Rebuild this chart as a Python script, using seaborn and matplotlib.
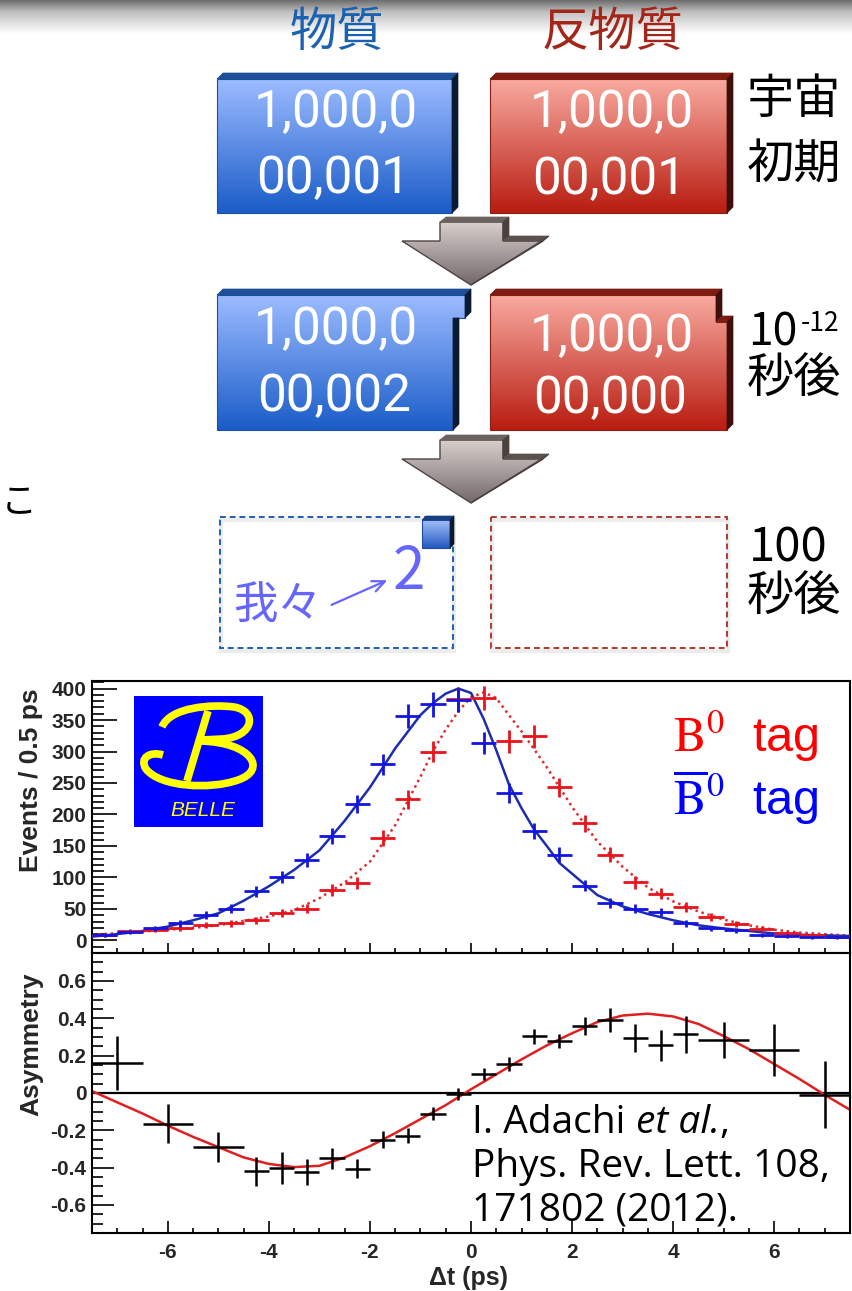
import numpy as np
import pandas as pd
import matplotlib
matplotlib.use('Agg')
import matplotlib.pyplot as plt
import seaborn as sns
from matplotlib.patches import Polygon, Rectangle, PathPatch, FancyArrowPatch
from matplotlib.path import Path
from matplotlib.colors import LinearSegmentedColormap
from matplotlib.ticker import MultipleLocator, FixedLocator, FuncFormatter

# ======================
# データ
# ======================
# 上段: Δt ビン中心 (0.5 ps ビン)
dt_bins = [-7.25, -6.75, -6.25, -5.75, -5.25, -4.75, -4.25, -3.75, -3.25, -2.75,
           -2.25, -1.75, -1.25, -0.75, -0.25, 0.25, 0.75, 1.25, 1.75, 2.25,
           2.75, 3.25, 3.75, 4.25, 4.75, 5.25, 5.75, 6.25, 6.75, 7.25]
dt_halfwidth = [0.25] * 30
# B0 tag (赤)
n_b0 = [9, 15, 17, 20, 25, 27, 32, 43, 50, 80,
        91, 162, 224, 300, 383, 385, 316, 324, 243, 186,
        136, 92, 74, 53, 37, 26, 18, 12, 8, 6]
n_b0_err = [3.0, 3.9, 4.1, 4.5, 5.0, 5.2, 5.7, 6.6, 7.1, 8.9,
            9.5, 12.7, 15.0, 17.3, 19.6, 19.6, 17.8, 18.0, 15.6, 13.6,
            11.7, 9.6, 8.6, 7.3, 6.1, 5.1, 4.2, 3.5, 2.8, 2.4]
# anti-B0 tag (青)
n_b0bar = [9, 13, 19, 27, 41, 50, 78, 101, 128, 166,
           217, 280, 357, 375, 382, 314, 234, 174, 136, 87,
           59, 50, 45, 27, 19, 16, 9, 7, 5, 5]
n_b0bar_err = [3.0, 3.6, 4.4, 5.2, 6.4, 7.1, 8.8, 10.0, 11.3, 12.9,
               14.7, 16.7, 18.9, 19.4, 19.5, 17.7, 15.3, 13.2, 11.7, 9.3,
               7.7, 7.1, 6.7, 5.2, 4.4, 4.0, 3.0, 2.6, 2.2, 2.2]

# フィット曲線 (読み取り点)
fit_b0bar_t = [-7.5, -7.0, -6.5, -6.0, -5.5, -5.0, -4.5, -4.0, -3.5, -3.0,
               -2.5, -2.0, -1.5, -1.0, -0.75, -0.5, -0.25, 0.0, 0.25, 0.5,
               0.75, 1.0, 1.25, 1.5, 1.75, 2.0, 2.5, 3.0, 3.5, 4.0,
               4.5, 5.0, 5.5, 6.0, 6.5, 7.0, 7.5]
fit_b0bar_n = [6, 10, 15, 22, 32, 43, 63, 86, 112, 143,
               190, 243, 305, 358, 377, 392, 400, 393, 352, 302,
               248, 210, 176, 150, 123, 106, 72, 54, 42, 32,
               24, 19, 15, 11, 9, 8, 7]
fit_b0_t = [-7.5, -7.0, -6.5, -6.0, -5.5, -5.0, -4.5, -4.0, -3.5, -3.0,
            -2.5, -2.0, -1.5, -1.0, -0.75, -0.5, -0.25, 0.0, 0.25, 0.5,
            0.75, 1.0, 1.5, 2.0, 2.5, 3.0, 3.5, 4.0, 4.5, 5.0,
            5.5, 6.0, 6.5, 7.0, 7.5]
fit_b0_n = [9, 11.5, 14, 17, 20, 24, 31, 38, 48, 67,
            92, 125, 183, 260, 301, 335, 364, 386, 394, 385,
            358, 332, 275, 212, 157, 117, 84, 62, 46, 33,
            24, 17, 12.5, 10, 7.5]

# 下段: 非対称度
asym_t = [-7.0, -6.0, -5.0, -4.25, -3.75, -3.25, -2.75, -2.25, -1.75, -1.25,
          -0.75, -0.25, 0.25, 0.75, 1.25, 1.75, 2.25, 2.75, 3.25, 3.75,
          4.25, 5.0, 6.0, 7.0]
asym_terr = [0.5, 0.5, 0.5, 0.25, 0.25, 0.25, 0.25, 0.25, 0.25, 0.25,
             0.25, 0.25, 0.25, 0.25, 0.25, 0.25, 0.25, 0.25, 0.25, 0.25,
             0.25, 0.5, 0.5, 0.5]
asym_val = [0.16, -0.165, -0.29, -0.42, -0.40, -0.425, -0.35, -0.405, -0.25, -0.23,
            -0.11, -0.005, 0.10, 0.155, 0.305, 0.28, 0.36, 0.39, 0.295, 0.255,
            0.315, 0.285, 0.23, -0.01]
asym_err = [0.145, 0.105, 0.08, 0.078, 0.085, 0.07, 0.058, 0.05, 0.045, 0.04,
            0.036, 0.034, 0.033, 0.036, 0.04, 0.038, 0.048, 0.063, 0.074, 0.085,
            0.10, 0.095, 0.14, 0.18]
fit_asym_t = [-7.5, -7.0, -6.5, -6.0, -5.5, -5.0, -4.5, -4.0, -3.5, -3.0,
              -2.5, -2.0, -1.5, -1.0, -0.5, 0.0, 0.5, 1.0, 1.5, 2.0,
              2.5, 3.0, 3.5, 4.0, 4.5, 5.0, 5.5, 6.0, 6.5, 7.0, 7.5]
fit_asym_v = [0.01, -0.05, -0.11, -0.175, -0.235, -0.29, -0.345, -0.38, -0.397, -0.39,
              -0.345, -0.285, -0.215, -0.14, -0.065, 0.02, 0.10, 0.18, 0.255, 0.32,
              0.38, 0.415, 0.425, 0.41, 0.37, 0.305, 0.235, 0.155, 0.075, -0.01, -0.09]

# 上部の図のテキスト
col_titles = ['物質', '反物質']
row1_counts = ['1,000,0\n00,001', '1,000,0\n00,001']
row2_counts = ['1,000,0\n00,002', '1,000,0\n00,000']
row_labels = ['宇宙\n初期', '秒後', '100\n秒後']
citation = ['I. Adachi ', 'et al.', ',', 'Phys. Rev. Lett. 108,', '171802 (2012).']

# ======================
# 図の設定
# ======================
sns.set_theme(style='white')
CJK = ['Noto Sans CJK JP', 'DejaVu Sans']
plt.rcParams['font.family'] = ['Liberation Sans', 'Noto Sans CJK JP', 'DejaVu Sans']
plt.rcParams['axes.unicode_minus'] = False

W, H = 852, 1291
fig = plt.figure(figsize=(W / 100, H / 100), dpi=100)
fig.patch.set_facecolor('white')

bg = fig.add_axes([0, 0, 1, 1], zorder=0)
bg.axis('off')


def grad_poly(ax, verts, c_top, c_bot, ec=None, lw=0.8, z=2):
    poly = Polygon(verts, closed=True, fc='none', ec='none', zorder=z)
    ax.add_patch(poly)
    xs = [v[0] for v in verts]
    ys = [v[1] for v in verts]
    cmap = LinearSegmentedColormap.from_list('g', [c_top, c_bot])
    grad = np.linspace(0, 1, 256)[:, None]
    im = ax.imshow(grad, cmap=cmap, extent=(min(xs), max(xs), max(ys), min(ys)),
                   aspect='auto', interpolation='bicubic', zorder=z)
    im.set_clip_path(poly)
    if ec is not None:
        ax.add_patch(Polygon(verts, closed=True, fc='none', ec=ec, lw=lw, zorder=z + 0.1))


def flat_poly(ax, verts, fc, z=2.2):
    ax.add_patch(Polygon(verts, closed=True, fc=fc, ec=fc, lw=0.5, zorder=z))


# 上端の灰色グラデーション
top_cmap = LinearSegmentedColormap.from_list('t', [(0, '#6e6e6e'), (0.35, '#c0c0c0'), (1, '#ffffff')])
bg.imshow(np.linspace(0, 1, 64)[:, None], cmap=top_cmap, extent=(0, W, 34, 0),
          aspect='auto', zorder=1)

# 列タイトル
bg.text(337, 33, col_titles[0], color='#1a62b0', fontsize=34, ha='center', va='center', family=CJK)
bg.text(612, 33, col_titles[1], color='#a3261b', fontsize=34, ha='center', va='center', family=CJK)

BLUE_T, BLUE_B = '#9cbcff', '#1a5cc8'
RED_T, RED_B = '#f9aaa0', '#b81c10'

# 1段目の箱
grad_poly(bg, [(217, 79), (452, 79), (452, 213), (217, 213)], BLUE_T, BLUE_B, ec='#1b4f9c')
flat_poly(bg, [(217, 79), (452, 79), (458, 73), (223, 73)], '#1d4f9a')
flat_poly(bg, [(452, 79), (458, 73), (458, 207), (452, 213)], '#0b1a33')
grad_poly(bg, [(490, 79), (727, 79), (727, 213), (490, 213)], RED_T, RED_B, ec='#8a1f14')
flat_poly(bg, [(490, 79), (727, 79), (733, 73), (496, 73)], '#7e1c12')
flat_poly(bg, [(727, 79), (733, 73), (733, 207), (727, 213)], '#3d100c')

# 2段目の箱
grad_poly(bg, [(217, 295), (465, 295), (465, 318), (453, 318), (453, 430), (217, 430)],
          BLUE_T, BLUE_B, ec='#1b4f9c')
flat_poly(bg, [(217, 295), (465, 295), (471, 289), (223, 289)], '#1d4f9a')
flat_poly(bg, [(465, 295), (471, 289), (471, 312), (465, 318)], '#0b1a33')
flat_poly(bg, [(453, 318), (459, 318), (459, 424), (453, 430)], '#0b1a33')
grad_poly(bg, [(490, 295), (716, 295), (716, 322), (727, 322), (727, 430), (490, 430)],
          RED_T, RED_B, ec='#8a1f14')
flat_poly(bg, [(490, 295), (716, 295), (722, 289), (496, 289)], '#7e1c12')
flat_poly(bg, [(716, 295), (722, 289), (722, 316), (716, 322)], '#3d100c')
flat_poly(bg, [(716, 322), (727, 322), (733, 316), (722, 316)], '#7e1c12')
flat_poly(bg, [(727, 322), (733, 316), (733, 424), (727, 430)], '#3d100c')

# 箱の数字
box_font = dict(color='white', fontsize=37, ha='center', va='baseline', family=['Roboto'],
                fontweight='normal', zorder=5)
for (x, y1, y2), s in zip([(336, 127, 193), (612, 127, 194)], row1_counts):
    l1, l2 = s.split('\n')
    bg.text(x, y1, l1, **box_font)
    bg.text(x - 3, y2, l2, **box_font)
for (x, y1, y2), s in zip([(336, 344, 411), (612, 351, 413)], row2_counts):
    l1, l2 = s.split('\n')
    bg.text(x, y1, l1, **box_font)
    bg.text(x - 2, y2, l2, **box_font)


# 下向き矢印
def draw_arrow(dy):
    top, neck, tip = 222 + dy, 241 + dy, 285 + dy
    face = [(440, top), (503, top), (503, neck), (543, neck), (471, tip), (402, neck), (440, neck)]
    grad_poly(bg, face, '#d8d0cd', '#74686a', ec='#4e4543', lw=1.0)
    flat_poly(bg, [(440, top), (503, top), (509, top - 5), (446, top - 5)], '#6b615f')
    flat_poly(bg, [(503, top), (509, top - 5), (509, neck - 5), (503, neck)], '#4a403e')
    flat_poly(bg, [(503, neck), (509, neck - 5), (549, neck - 5), (543, neck)], '#5a504e')
    flat_poly(bg, [(543, neck), (549, neck - 5), (475, tip - 3), (471, tip)], '#4a403e')


draw_arrow(0)
draw_arrow(218)

# 3段目: 点線の箱
for x0, x1, c in [(220, 453, '#1f5fb5'), (491, 727, '#b03a2e')]:
    bg.add_patch(Rectangle((x0 + 1, 520), x1 - x0, 131, fill=False, ec='#ececec', lw=3, zorder=2))
    bg.add_patch(Rectangle((x0, 517), x1 - x0, 131, fill=False, ec=c, lw=1.4,
                           ls=(0, (3, 2)), zorder=3))
grad_poly(bg, [(422, 520), (450, 520), (450, 548), (422, 548)], '#a4c0fa', '#2258c0', ec='#1b4f9c', z=4)
flat_poly(bg, [(422, 520), (426, 516), (454, 516), (450, 520)], '#1a3f80', z=4.2)
flat_poly(bg, [(450, 520), (454, 516), (454, 544), (450, 548)], '#0b1a33', z=4.2)

PURPLE = '#6666ff'
bg.text(409, 589, '2', color=PURPLE, fontsize=42, ha='center', va='baseline', family=CJK, zorder=5)
bg.text(278, 606, '我々', color=PURPLE, fontsize=32, ha='center', va='center', family=CJK, zorder=5)
bg.add_patch(FancyArrowPatch((329, 606), (390, 579), arrowstyle='->,head_length=9,head_width=4',
                             color=PURPLE, lw=1.6, mutation_scale=1, zorder=5))

# 右側のラベル
rl = dict(color='black', fontsize=34, ha='left', va='center', family=CJK)
l1, l2 = row_labels[0].split('\n')
bg.text(747, 100, l1, **rl)
bg.text(747, 165, l2, **rl)
bg.text(748, 345, '10', color='black', fontsize=32, ha='left', va='baseline', family=CJK)
bg.text(801, 310, '-12', color='black', fontsize=19, ha='left', va='top', family=CJK)
bg.text(747, 379, row_labels[1], **rl)
l1, l2 = row_labels[2].split('\n')
bg.text(749, 562, l1, color='black', fontsize=34, ha='left', va='baseline', family=CJK)
bg.text(747, 597, l2, **rl)
bg.text(1, 503, 'こ', color='black', fontsize=26, ha='left', va='center', family=CJK)

bg.set_xlim(0, W)
bg.set_ylim(H, 0)

# ======================
# グラフ
# ======================
ax1 = fig.add_axes([92 / W, 1 - 953 / H, 758 / W, 272 / H], zorder=5)
ax2 = fig.add_axes([92 / W, 1 - 1233 / H, 758 / W, 280 / H], zorder=5)

RED = '#e8141c'
BLUE = '#1414e0'

df_b0bar_fit = pd.DataFrame({'t': fit_b0bar_t, 'n': fit_b0bar_n})
df_b0_fit = pd.DataFrame({'t': fit_b0_t, 'n': fit_b0_n})
sns.lineplot(data=df_b0_fit, x='t', y='n', ax=ax1, color='#d83030', lw=1.8,
             linestyle=(0, (1, 1.5)), zorder=2)
sns.lineplot(data=df_b0bar_fit, x='t', y='n', ax=ax1, color='#1c2db0', lw=1.8, zorder=3)
ax1.errorbar(dt_bins, n_b0, xerr=dt_halfwidth, yerr=n_b0_err, fmt='none',
             ecolor=RED, elinewidth=2.0, capsize=0, zorder=4)
ax1.errorbar(dt_bins, n_b0bar, xerr=dt_halfwidth, yerr=n_b0bar_err, fmt='none',
             ecolor=BLUE, elinewidth=2.0, capsize=0, zorder=5)

df_asym_fit = pd.DataFrame({'t': fit_asym_t, 'a': fit_asym_v})
ax2.axhline(0, color='black', lw=1.6, zorder=1)
sns.lineplot(data=df_asym_fit, x='t', y='a', ax=ax2, color='#e02020', lw=1.8, zorder=2)
ax2.errorbar(asym_t, asym_val, xerr=asym_terr, yerr=asym_err, fmt='none',
             ecolor='black', elinewidth=1.8, capsize=0, zorder=3)

ax1.set_xlim(-7.5, 7.5)
ax1.set_ylim(-20, 412)
ax2.set_xlim(-7.5, 7.5)
ax2.set_ylim(-0.75, 0.75)

tick_font = dict(family='Liberation Sans', weight='bold', size=15)
for ax in (ax1, ax2):
    ax.set_facecolor('white')
    for sp in ax.spines.values():
        sp.set_visible(True)
        sp.set_color('black')
        sp.set_linewidth(1.5)
    ax.xaxis.set_major_locator(MultipleLocator(2))
    ax.xaxis.set_minor_locator(MultipleLocator(0.5))
    ax.tick_params(axis='both', which='both', direction='in', color='black', width=1.2,
                   top=False, right=False, left=True, bottom=True)
    ax.set_xlabel('')
    ax.set_ylabel('')

ax1.yaxis.set_major_locator(MultipleLocator(50))
ax1.yaxis.set_minor_locator(MultipleLocator(10))
ax1.yaxis.set_major_formatter(FuncFormatter(lambda v, p: f'{v:.0f}'))
ax1.tick_params(axis='y', which='major', length=18, pad=4, labelsize=15)
ax1.tick_params(axis='y', which='minor', length=8.5)
ax1.tick_params(axis='x', which='major', length=7, labelbottom=False)
ax1.tick_params(axis='x', which='minor', length=3.5)

ax2.yaxis.set_major_locator(FixedLocator([-0.6, -0.4, -0.2, 0, 0.2, 0.4, 0.6]))
ax2.yaxis.set_minor_locator(MultipleLocator(0.05))
ax2.yaxis.set_major_formatter(FuncFormatter(lambda v, p: '0' if abs(v) < 1e-9 else f'{v:.1f}'))
ax2.xaxis.set_major_formatter(FuncFormatter(lambda v, p: f'{v:.0f}'))
ax2.tick_params(axis='y', which='major', length=16, pad=4, labelsize=15)
ax2.tick_params(axis='y', which='minor', length=8)
ax2.tick_params(axis='x', which='major', length=9, pad=7, labelsize=15)
ax2.tick_params(axis='x', which='minor', length=3.5)
for lab in ax1.get_yticklabels() + ax2.get_xticklabels() + ax2.get_yticklabels():
    lab.set_fontproperties(tick_font)

ax1.set_ylabel('Events / 0.5 ps', fontsize=19, fontweight='bold', family='Liberation Sans',
               va='center')
ax1.yaxis.set_label_coords(-0.08, 0.636)
ax2.set_ylabel('Asymmetry', fontsize=19, fontweight='bold', family='Liberation Sans', va='center')
ax2.yaxis.set_label_coords(-0.08, 0.673)
ax2.set_xlabel('Δt (ps)', fontsize=18, fontweight='bold', family='Liberation Sans', va='center')
ax2.xaxis.set_label_coords(0.497, -0.16)

# ======================
# 重ね書き (ロゴ・凡例・引用)
# ======================
ov = fig.add_axes([0, 0, 1, 1], zorder=10)
ov.patch.set_alpha(0)
ov.axis('off')
ov.set_xlim(0, W)
ov.set_ylim(H, 0)

# BELLE ロゴ
ov.add_patch(Rectangle((134, 696), 129, 131, fc='#0000ff', ec='none', zorder=1))
Y = '#ffff00'
top_bowl = Path([(162, 727), (170, 707), (212, 704), (234, 707),
                 (258, 711), (254, 737), (222, 739), (202, 740)],
                [Path.MOVETO, Path.CURVE4, Path.CURVE4, Path.CURVE4,
                 Path.CURVE4, Path.CURVE4, Path.CURVE4, Path.LINETO])
stem = Path([(208, 711), (187, 781)], [Path.MOVETO, Path.LINETO])
bottom_bowl = Path([(200, 741), (252, 742), (268, 770), (238, 780),
                    (210, 790), (160, 787), (146, 769),
                    (139, 758), (150, 751), (163, 755)],
                   [Path.MOVETO, Path.CURVE4, Path.CURVE4, Path.CURVE4,
                    Path.CURVE4, Path.CURVE4, Path.CURVE4,
                    Path.CURVE4, Path.CURVE4, Path.CURVE4])
for pth in (top_bowl, stem, bottom_bowl):
    ov.add_patch(PathPatch(pth, fc='none', ec=Y, lw=5.5, capstyle='butt', zorder=2))
ov.text(203, 816, 'BELLE', color=Y, fontsize=15, style='italic', fontweight='light',
        family='Liberation Sans', ha='center', va='baseline', zorder=3)

# 凡例
ov.text(673, 752, r'$\mathrm{B}^{0}$  tag', color='#ff0000', fontsize=35, ha='left',
        va='baseline', family='Liberation Sans', math_fontfamily='stix')
ov.text(673, 815, r'$\overline{\mathrm{B}}^{0}$  tag', color='#0000ff', fontsize=35, ha='left',
        va='baseline', family='Liberation Sans', math_fontfamily='stix')

# 引用
renderer = fig.canvas.get_renderer()
cite_font = dict(color='black', fontsize=28, family='Open Sans', va='baseline', ha='left')
x = 472
for s, st in [(citation[0], 'normal'), (citation[1], 'italic'), (citation[2], 'normal')]:
    t = ov.text(x, 1133, s, style=st, **cite_font)
    x += t.get_window_extent(renderer=renderer).width
ov.text(472, 1177, citation[3], **cite_font)
ov.text(472, 1220, citation[4], **cite_font)

fig.savefig('out.png', dpi=100)
